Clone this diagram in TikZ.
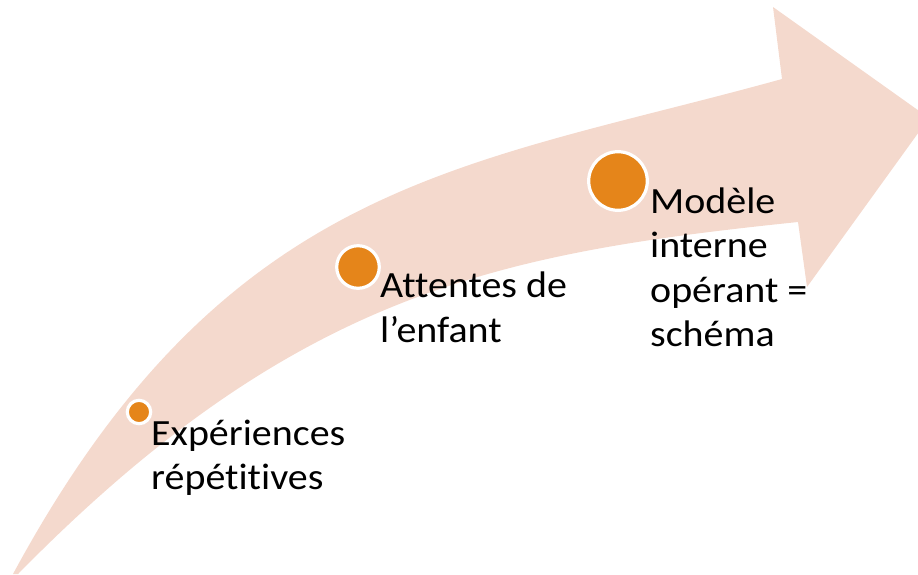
\documentclass[tikz,border=0pt]{standalone}
\usepackage{fontspec}
\setmainfont{Carlito}[Ligatures=NoCommon, FakeStretch=1.08]
\usepackage{tikz}
\definecolor{peach}{HTML}{F4D9CD}
\definecolor{dotorange}{HTML}{E5851A}
\tikzset{
   band/.style={fill=peach, draw=none},
   dot/.style={circle, fill=dotorange, draw=white, line width=3.2pt,
      inner sep=0pt, minimum size=#1},
   steptext/.style={anchor=base west, align=left, inner sep=0pt,
      font=\fontsize{37}{44.5}\selectfont},
    }
\begin{document}
\begin{tikzpicture}[x=1pt, y=-1pt]
            \clip (0,0) rectangle (918,574);
            \fill[band] (13,574) .. controls (227,178) and (464,167) .. (782,79)
               -- (773,7) -- (929,118) -- (807,287) -- (798,222)
               .. controls (500,253) and (296,291) .. (18,574) -- cycle;
            \node[dot=23.4pt] (exp) at (139,412) {};
            \node[dot=42.6pt] (att) at (358,267) {};
            \node[dot=58.6pt] (mod) at (618,181) {};
            \node[steptext] (exptext) at (151,489.5) {Expériences\\répétitives};
            \node[steptext] (atttext) at (380,342) {Attentes de\\l’enfant};
            \node[steptext] (modtext) at (650,346.5) {Modèle\\interne\\opérant =\\schéma};
        \end{tikzpicture}
\end{document}
